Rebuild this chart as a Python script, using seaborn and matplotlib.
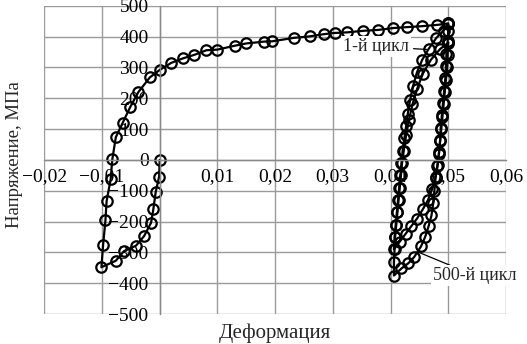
import numpy as np
import pandas as pd
import matplotlib
matplotlib.use('Agg')
import matplotlib.pyplot as plt
import seaborn as sns
from matplotlib.ticker import FuncFormatter

# first loading: 0 -> compression to -0.01 -> tension to 0.05
load_x = [0.0, -0.0001, -0.0007, -0.0011, -0.0015, -0.0027, -0.0041, -0.0062, -0.0076, -0.0101,
          -0.0098, -0.0094, -0.0092, -0.0085, -0.0082, -0.0076, -0.0064, -0.0051, -0.0037, -0.0017,
          0.0000, 0.0020, 0.0041, 0.0060, 0.0081, 0.0100, 0.0131, 0.0150, 0.0181, 0.0195,
          0.0232, 0.0260, 0.0284, 0.0303, 0.0325, 0.0353, 0.0379, 0.0405, 0.0429, 0.0454,
          0.0480, 0.0500]
load_y = [0, -54, -105, -160, -204, -247, -278, -296, -327, -348,
          -275, -196, -134, -63, 3, 74, 121, 172, 220, 268,
          292, 315, 330, 341, 356, 358, 371, 378, 384, 385,
          396, 401, 408, 412, 414, 419, 422, 428, 431, 434,
          438, 443]

# 1st cycle loop (0.05 -> 0.04 -> 0.05)
c1_x = [0.0500, 0.0500, 0.0499, 0.0497, 0.0496, 0.0495, 0.0493, 0.0491, 0.0489, 0.0487, 0.0486,
        0.0484, 0.0482, 0.0478, 0.0472, 0.0465, 0.0456, 0.0446, 0.0436, 0.0426, 0.0416, 0.0406,
        0.0407, 0.0409, 0.0411, 0.0413, 0.0415, 0.0417, 0.0419, 0.0421, 0.0424, 0.0427,
        0.0430, 0.0434, 0.0439, 0.0446, 0.0455, 0.0466, 0.0479, 0.0492, 0.0500]
c1_y = [443, 420, 385, 345, 305, 265, 225, 185, 145, 105, 65,
        25, -15, -55, -95, -130, -160, -190, -215, -240, -265, -290,
        -250, -210, -170, -130, -90, -50, -10, 30, 70, 110,
        150, 195, 240, 285, 325, 360, 395, 420, 440]

# 500th cycle loop
c500_x = [0.0500, 0.0499, 0.0498, 0.0496, 0.0494, 0.0492, 0.0490, 0.0488, 0.0486, 0.0484, 0.0481,
          0.0478, 0.0476, 0.0474, 0.0471, 0.0466, 0.0460, 0.0453, 0.0441, 0.0431, 0.0419, 0.0406,
          0.0406, 0.0407, 0.0408, 0.0410, 0.0412, 0.0414, 0.0416, 0.0418, 0.0420, 0.0423,
          0.0427, 0.0432, 0.0438, 0.0446, 0.0456, 0.0470, 0.0486, 0.0500]
c500_y = [380, 340, 300, 260, 220, 180, 140, 100, 60, 20, -20,
          -60, -100, -140, -180, -215, -250, -280, -315, -335, -352, -375,
          -330, -290, -250, -210, -170, -130, -90, -50, -10, 30,
          80, 130, 180, 230, 280, 325, 360, 380]

x_ticks = [-0.02, -0.01, 0.0, 0.01, 0.02, 0.03, 0.04, 0.05, 0.06]
y_ticks = [-500, -400, -300, -200, -100, 0, 100, 200, 300, 400, 500]

sns.set_theme(style='whitegrid')
plt.rcParams['font.family'] = ['Liberation Serif', 'DejaVu Serif']

fig = plt.figure(figsize=(5.27, 3.44), dpi=100)
ax = fig.add_axes([0.084, 0.087, 0.876, 0.896])

mk = dict(marker='o', markersize=7.5, markerfacecolor='none', markeredgecolor='black',
          markeredgewidth=1.6, color='black', linewidth=1.6, sort=False, estimator=None)
sns.lineplot(x=load_x + c1_x, y=load_y + c1_y, ax=ax, **mk)
sns.lineplot(x=c500_x, y=c500_y, ax=ax, **mk)

ax.set_xlim(-0.02, 0.06)
ax.set_ylim(-500, 500)
ax.set_xticks(x_ticks)
ax.set_yticks(y_ticks)

def fx(v, pos):
    if abs(v) < 1e-9:
        return ''
    s = f'{abs(v):.2f}'.replace('.', ',')
    return ('\u2212' + s) if v < 0 else s

def fy(v, pos):
    v = int(round(v))
    return ('\u2212' + str(abs(v))) if v < 0 else str(v)

ax.xaxis.set_major_formatter(FuncFormatter(fx))
ax.yaxis.set_major_formatter(FuncFormatter(fy))

ax.grid(True, color='#9a9a9a', linewidth=1.0)
for side in ['top', 'right']:
    ax.spines[side].set_visible(False)
ax.spines['left'].set_position(('data', 0))
ax.spines['bottom'].set_position(('data', 0))
for side in ['left', 'bottom']:
    ax.spines[side].set_color('#8a8a8a')
    ax.spines[side].set_linewidth(1.0)
ax.tick_params(axis='both', length=0, labelsize=14, colors='black')
ax.tick_params(axis='y', pad=8)
ax.tick_params(axis='x', pad=6)
ax.set_xlabel('')
ax.set_ylabel('')

fig.text(0.522, 0.032, 'Деформация', ha='center', va='center', fontsize=15)
fig.text(0.028, 0.55, 'Напряжение, МПа', ha='center', va='center', rotation=90, fontsize=13.5)

ax.annotate('1-й цикл', xy=(0.0468, 358), xytext=(0.0432, 368), ha='right', va='center',
            fontsize=13, arrowprops=dict(arrowstyle='-', color='black', lw=0.9),
            bbox=dict(boxstyle='square,pad=0.1', fc='white', ec='none'))
ax.annotate('500-й цикл', xy=(0.0448, -299), xytext=(0.0474, -375), ha='left', va='center',
            fontsize=13, arrowprops=dict(arrowstyle='-', color='black', lw=0.9,
                                         shrinkA=0, shrinkB=0),
            bbox=dict(boxstyle='square,pad=0.1', fc='white', ec='none'),
            annotation_clip=False)

fig.savefig('out.png', dpi=100)
